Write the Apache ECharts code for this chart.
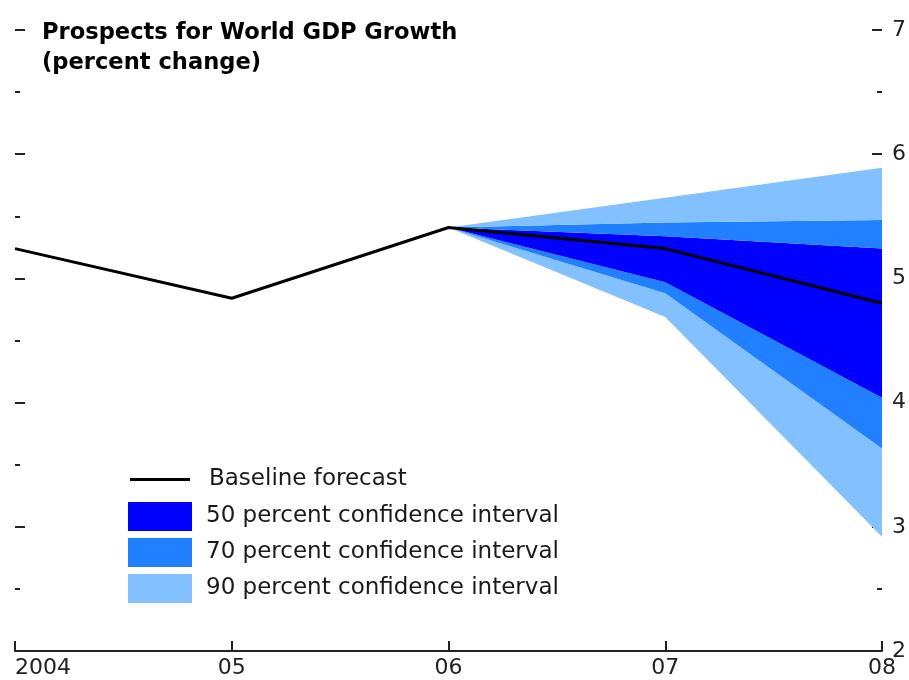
<!DOCTYPE html>
<html><head><meta charset="utf-8">
<script src="https://cdn.jsdelivr.net/npm/echarts@6/dist/echarts.min.js"></script>
<style>html,body{margin:0;padding:0;background:#fff}#c{width:909px;height:680px}</style>
</head><body><div id="c"></div>
<script>
const categories = ['2004', '05', '06', '07', '08'];
const baseline = [5.24, 4.84, 5.41, 5.24, 4.80];
const lower90 = [null, null, 5.41, 4.69, 2.92];
const lower70 = [null, null, 5.41, 4.88, 3.63];
const lower50 = [null, null, 5.41, 4.97, 4.04];
const upper50 = [null, null, 5.41, 5.34, 5.24];
const upper70 = [null, null, 5.41, 5.45, 5.47];
const upper90 = [null, null, 5.41, 5.65, 5.89];
const yTicks = [2, 3, 4, 5, 6, 7];

const C50 = '#0000ff', C70 = '#2080ff', C90 = '#82c0ff';
const N50 = '50 percent confidence interval';
const N70 = '70 percent confidence interval';
const N90 = '90 percent confidence interval';
const NB = 'Baseline forecast';
const FONT = 'DejaVu Sans';

function diff(a, b) { return a.map((v, i) => (v == null || b[i] == null) ? null : +(v - b[i]).toFixed(4)); }

function band(name, data, color) {
  return {
    name, type: 'line', stack: 'fan', data, symbol: 'none', showSymbol: false,
    color, lineStyle: { width: 0, color }, itemStyle: { color },
    areaStyle: { color, opacity: 1 }, silent: true, z: 2
  };
}

const chart = echarts.init(document.getElementById('c'));
const axisCommon = {
  type: 'value', min: yTicks[0], max: yTicks[yTicks.length - 1], interval: 1,
  axisLine: { show: false },
  axisTick: { show: true, inside: true, length: 10, lineStyle: { color: '#222', width: 2 } },
  minorTick: { show: true, splitNumber: 2, length: 5, lineStyle: { color: '#222', width: 2 } },
  splitLine: { show: false }, minorSplitLine: { show: false }
};
chart.setOption({
  animation: false,
  backgroundColor: '#fff',
  title: {
    text: 'Prospects for World GDP Growth\n(percent change)',
    left: 42, top: 18, padding: 0,
    textStyle: { fontFamily: FONT, fontSize: 22.6, fontWeight: 'bold', color: '#000', lineHeight: 30 }
  },
  grid: { left: 15, right: 27, top: 30, bottom: 29, containLabel: false, outerBoundsMode: 'none' },
  xAxis: {
    type: 'category', data: categories, boundaryGap: false,
    axisLine: { show: true, lineStyle: { color: '#222', width: 2 } },
    axisTick: { show: true, inside: true, length: 10, interval: 0, lineStyle: { color: '#222', width: 2 } },
    axisLabel: { interval: 0, margin: 6, fontFamily: FONT, fontSize: 22, color: '#222', alignMinLabel: 'left' },
    splitLine: { show: false }
  },
  yAxis: [
    Object.assign({}, axisCommon, { position: 'left', axisLabel: { show: false } }),
    Object.assign({}, axisCommon, { position: 'right',
      axisLabel: { show: true, margin: 10, fontFamily: FONT, fontSize: 22, color: '#222' } })
  ],
  legend: [
    {
      data: [{ name: NB, icon: 'rect' }], left: 130, top: 468, itemWidth: 60, itemHeight: 3, padding: 0,
      itemStyle: { color: '#000', borderWidth: 0 },
      textStyle: { fontFamily: FONT, fontSize: 23, color: '#1a1a1a', padding: [0, 0, 0, 14] },
      selectedMode: false
    },
    {
      data: [N50, N70, N90], orient: 'vertical', left: 128, top: 502, padding: 0,
      itemWidth: 64, itemHeight: 29, itemGap: 7, icon: 'rect',
      itemStyle: { borderWidth: 0 },
      textStyle: { fontFamily: FONT, fontSize: 23, color: '#1a1a1a', padding: [0, 0, 0, 9] },
      selectedMode: false
    }
  ],
  series: [
    { name: 'base', type: 'line', stack: 'fan', data: lower90, symbol: 'none', lineStyle: { width: 0 }, silent: true, z: 2 },
    band(N90, diff(lower70, lower90), C90),
    band(N70, diff(lower50, lower70), C70),
    band(N50, diff(upper50, lower50), C50),
    band(N70, diff(upper70, upper50), C70),
    band(N90, diff(upper90, upper70), C90),
    { name: NB, type: 'line', data: baseline, symbol: 'none', showSymbol: false, color: '#000',
      lineStyle: { color: '#000', width: 3 }, z: 5, silent: true }
  ]
});
</script></body></html>
